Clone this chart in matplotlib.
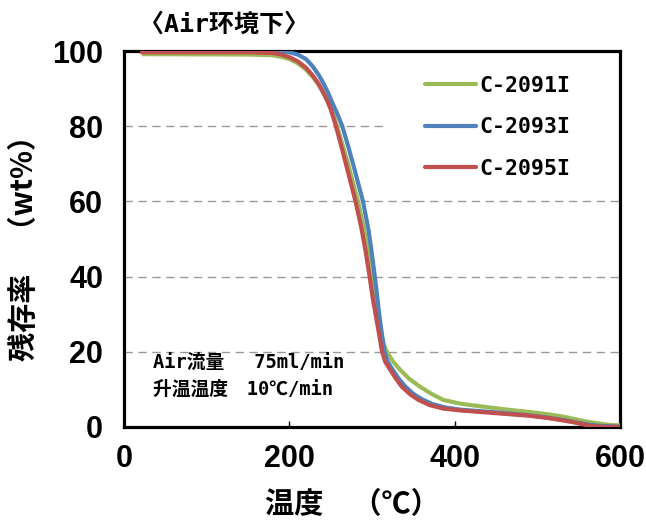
import matplotlib

matplotlib.use("Agg")
import matplotlib.pyplot as plt

# TGA curves (temperature in C, residue in wt%)
temp_2091 = [24, 150, 180, 190, 200, 210, 220, 228, 235, 241, 246, 251, 257, 263,
             271, 283, 290, 295, 299, 303, 307, 311, 314, 318, 325, 334, 345, 358,
             372, 386, 407, 431, 460, 490, 512, 530, 545, 560, 572, 585, 600]
wt_2091 = [99.2, 99.1, 98.9, 98.5, 97.9, 96.8, 95.1, 93.2, 91.1, 88.9, 86.9, 84.6,
           80.5, 76.0, 70.0, 60.0, 53.0, 47.0, 41.0, 35.0, 29.5, 25.0, 22.0, 20.0,
           17.5, 15.2, 12.8, 10.7, 8.8, 7.2, 6.2, 5.5, 4.7, 4.0, 3.4, 2.8, 2.1, 1.4,
           1.0, 0.6, 0.4]

temp_2093 = [22, 150, 190, 200, 210, 220, 228, 235, 241, 247, 252, 258, 264, 270,
             277, 283, 289, 296, 301, 305, 308, 311, 315, 319, 325, 332, 340, 350,
             360, 373, 388, 407, 431, 460, 490, 512, 530, 545, 560, 575, 600]
wt_2093 = [100.0, 100.0, 99.9, 99.7, 99.1, 97.9, 96.0, 93.8, 91.5, 88.8, 86.2,
           83.3, 80.0, 75.5, 70.0, 65.0, 60.0, 52.0, 44.0, 37.0, 31.0, 26.0, 20.0,
           17.3, 15.2, 12.9, 10.8, 8.8, 7.4, 6.1, 5.2, 4.6, 4.2, 3.7, 3.1, 2.5, 1.9,
           1.3, 0.7, 0.3, 0.1]

temp_2095 = [22, 150, 180, 190, 200, 210, 220, 228, 235, 241, 246, 250, 255, 260,
             266, 273, 280, 287, 292, 297, 301, 305, 309, 312, 316, 322, 329, 336,
             346, 356, 370, 386, 407, 431, 460, 490, 512, 530, 545, 555, 565, 580, 600]
wt_2095 = [99.7, 99.7, 99.5, 99.1, 98.4, 97.3, 95.6, 93.6, 91.4, 89.0, 86.7, 84.5,
           81.0, 77.0, 72.0, 66.0, 60.0, 53.0, 47.0, 40.0, 34.0, 29.0, 24.0, 20.0,
           17.3, 15.2, 12.8, 10.7, 8.7, 7.2, 5.8, 4.9, 4.4, 4.0, 3.5, 3.0, 2.4, 1.8,
           1.2, 0.7, 0.3, 0.05, 0.0]

labels = ["C-2091I", "C-2093I", "C-2095I"]
colors = ["#9BBB59", "#4F81BD", "#C0504D"]

x_ticks = [0, 200, 400, 600]
y_ticks = [0, 20, 40, 60, 80, 100]
grid_levels = [20, 40, 60, 80]

mono_cjk = ["DejaVu Sans Mono", "Noto Sans CJK JP"]
cjk = ["Noto Sans CJK JP", "DejaVu Sans"]

fig = plt.figure(figsize=(6.46, 5.22), dpi=100)
ax = fig.add_axes([0.192, 0.182, 0.768, 0.720])

# Dashed grid; the top line stops where the legend box starts
for lvl in grid_levels:
    xmax = 0.53 if lvl == 80 else 1.0
    ax.axhline(lvl, xmin=0, xmax=xmax, linestyle=(0, (6, 4)), color="#999999",
               linewidth=1.0, zorder=1)

series = [(temp_2091, wt_2091), (temp_2093, wt_2093), (temp_2095, wt_2095)]
for (t, w), lab, col in zip(series, labels, colors):
    ax.plot(t, w, color=col, linewidth=3.0, label=lab, zorder=3)

ax.set_xlim(0, 600)
ax.set_ylim(0, 100)
ax.set_xticks(x_ticks)
ax.set_yticks(y_ticks)

for lbl in ax.get_xticklabels() + ax.get_yticklabels():
    lbl.set_fontfamily("Liberation Sans")
    lbl.set_fontweight("bold")
    lbl.set_fontsize(22)
ax.tick_params(axis="x", direction="in", length=4, width=1, pad=12)
ax.tick_params(axis="y", length=0, pad=15)

for spine in ax.spines.values():
    spine.set_linewidth(2.3)
    spine.set_color("black")

leg = ax.legend(loc="upper left", bbox_to_anchor=(0.607, 0.935), frameon=False,
                borderaxespad=0, borderpad=0, handlelength=2.37,
                handletextpad=0.15, labelspacing=1.0,
                prop={"family": mono_cjk, "weight": "bold", "size": 15.5})
for h in leg.get_lines():
    h.set_solid_capstyle("round")

ax.text(35, 15.7, "Air流量　 75ml/min", fontsize=13.5, fontweight="bold",
        family=mono_cjk, va="baseline", ha="left")
ax.text(35, 8.5, "升温温度　10℃/min", fontsize=13.5, fontweight="bold",
        family=mono_cjk, va="baseline", ha="left")

fig.text(0.215, 0.952, "〈Air环境下〉", fontsize=18, fontweight="bold",
         family=mono_cjk, ha="left", va="center")

ax.set_xlabel("温度　（℃）", fontsize=21, fontweight="bold", family=cjk)
ax.xaxis.set_label_coords(0.46, -0.205)
ax.xaxis.label.set_va("center")
ax.set_ylabel("残存率　（wt%）", fontsize=21, fontweight="bold", family=cjk)
ax.yaxis.set_label_coords(-0.202, 0.495)
ax.yaxis.label.set_va("center")

plt.savefig("out.png", dpi=100)
plt.close(fig)
